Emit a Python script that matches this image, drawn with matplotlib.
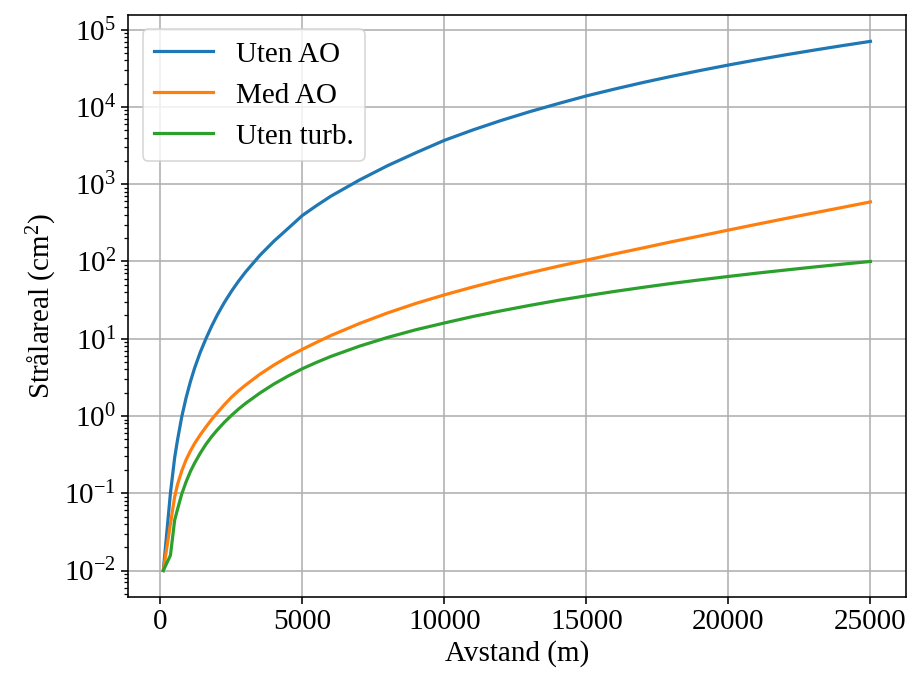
import matplotlib
matplotlib.use("Agg")
import matplotlib.pyplot as plt

plt.rcParams['font.family'] = ['Liberation Serif', 'DejaVu Serif']
plt.rcParams['mathtext.fontset'] = 'custom'
plt.rcParams['mathtext.rm'] = 'Liberation Serif'
plt.rcParams['mathtext.it'] = 'Liberation Serif:italic'
plt.rcParams['mathtext.bf'] = 'Liberation Serif:bold'

# Distance (m)
distance = [100, 350, 500, 600, 750, 900, 1050, 1200, 1400, 1600, 1800, 2000, 2250,
            2500, 2750, 3000, 3500, 4000, 4500, 5000, 5500, 6000, 7000, 8000, 9000,
            10000, 11000, 12000, 13000, 14000, 15000, 16000, 17000, 18000, 19000,
            20000, 21000, 22000, 23000, 24000, 25000]

# Beam area (cm^2)
uten_ao = [0.01, 0.1, 0.29, 0.49, 0.98, 1.71, 2.75, 4.15, 6.67, 10.0, 14.5, 20.3, 29.5,
           41.2, 55.7, 73.4, 120, 184, 269, 395, 530, 700, 1130, 1740, 2560,
           3700, 5040, 6690, 8680, 11040, 13900, 17080, 20750, 24910, 29620,
           34900, 40720, 47190, 54270, 62090, 70600]
med_ao = [0.01, 0.04, 0.09, 0.13, 0.195, 0.27, 0.35, 0.44, 0.57, 0.72, 0.9, 1.1, 1.4,
          1.75, 2.12, 2.52, 3.47, 4.58, 5.87, 7.3, 9.0, 11.0, 15.7, 21.6, 28.7,
          37, 46.7, 58.2, 71.3, 86.7, 104, 125.5, 150, 180, 214,
          255, 303, 359, 424, 500, 590]
uten_turb = [0.01, 0.0157, 0.045, 0.062, 0.098, 0.14, 0.19, 0.245, 0.33, 0.43, 0.54,
             0.66, 0.83, 1.02, 1.23, 1.46, 1.98, 2.6, 3.3, 4.1, 4.95, 5.9, 8.0, 10.4,
             13.1, 16.0, 19.4, 23, 27, 31.4, 36, 41, 46.3, 52, 57.8,
             64, 70.6, 77.4, 84.7, 92.2, 100]

labels = ['Uten AO', 'Med AO', 'Uten turb.']
colors = ['#1f77b4', '#ff7f0e', '#2ca02c']

FS = 21

fig = plt.figure(figsize=(9.14, 6.78), dpi=100)
ax = fig.add_axes([0.140, 0.1195, 0.851, 0.8585])

for ys, lab, c in zip([uten_ao, med_ao, uten_turb], labels, colors):
    ax.plot(distance, ys, color=c, lw=2.3, label=lab)

ax.set_yscale('log')
ax.grid(True, which='major', color='#b0b0b0', lw=1.15)
ax.set_xlabel('Avstand (m)', fontsize=FS, labelpad=4)
ax.set_ylabel('Strålareal (cm$^2$)', fontsize=FS, labelpad=4)
ax.tick_params(axis='both', which='major', labelsize=FS, length=5, width=1.15)
ax.tick_params(axis='y', which='minor', length=3, width=0.9)
for s in ax.spines.values():
    s.set_linewidth(1.15)

leg = ax.legend(loc='upper left', fontsize=FS, handlelength=2.0)
leg.get_frame().set_linewidth(1.15)

fig.savefig('out.png', dpi=100)
